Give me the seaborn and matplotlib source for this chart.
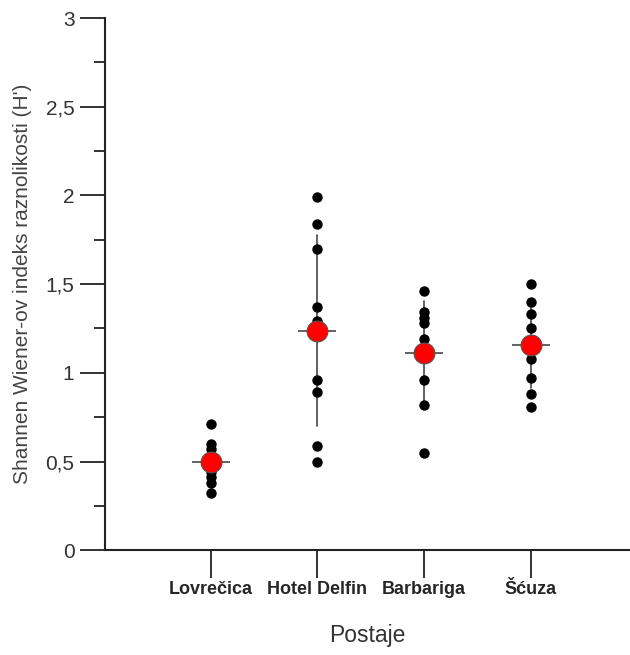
import numpy as np
import pandas as pd
import matplotlib
matplotlib.use("Agg")
import matplotlib.pyplot as plt
from matplotlib.ticker import MultipleLocator, FuncFormatter
import seaborn as sns

sns.set_style("ticks")
plt.rcParams['font.family'] = ['Liberation Sans', 'DejaVu Sans']

# postaje i vrijednosti H' (ocitano sa slike)
postaje = ["Lovrečica", "Hotel Delfin", "Barbariga", "Šćuza"]
lovrecica = [0.71, 0.60, 0.57, 0.53, 0.50, 0.44, 0.41, 0.38, 0.32]
hotel_delfin = [1.99, 1.84, 1.70, 1.37, 1.29, 0.96, 0.89, 0.59, 0.50]
barbariga = [1.46, 1.34, 1.31, 1.28, 1.19, 1.12, 0.96, 0.82, 0.55]
scuza = [1.50, 1.40, 1.33, 1.25, 1.17, 1.08, 0.97, 0.88, 0.81]

df = pd.DataFrame({
    "postaja": np.repeat(postaje, [len(lovrecica), len(hotel_delfin), len(barbariga), len(scuza)]),
    "H": lovrecica + hotel_delfin + barbariga + scuza,
})

fig = plt.figure(figsize=(6.3, 6.55), dpi=100)
ax = fig.add_axes([0.1667, 0.160, 0.8333, 0.8125])

# okomita linija (SD)
sns.pointplot(data=df, x="postaja", y="H", order=postaje, errorbar="sd",
              linestyle="none", marker="", color="#555555", err_kws={"linewidth": 1.3},
              ax=ax, zorder=1)
# vodoravna linija na srednjoj vrijednosti
sns.pointplot(data=df, x="postaja", y="H", order=postaje, errorbar=None,
              linestyle="none", marker="_", markersize=28, markeredgewidth=1.3,
              color="#555555", ax=ax, zorder=2)
# pojedinacne vrijednosti
sns.stripplot(data=df, x="postaja", y="H", order=postaje, jitter=False,
              color="black", size=7.5, ax=ax, zorder=3)
# srednja vrijednost
sns.pointplot(data=df, x="postaja", y="H", order=postaje, errorbar=None,
              linestyle="none", marker="o", markersize=15, color="red",
              markeredgecolor="#555555", markeredgewidth=0.8, ax=ax, zorder=4)

ax.set_xlim(-0.99, 3.93)
ax.set_ylim(0, 3)
ax.yaxis.set_major_locator(MultipleLocator(0.5))
ax.yaxis.set_minor_locator(MultipleLocator(0.25))
ax.yaxis.set_major_formatter(FuncFormatter(lambda v, p: f"{v:g}".replace(".", ",")))

sns.despine(ax=ax)
for s in ["left", "bottom"]:
    ax.spines[s].set_linewidth(1.5)
    ax.spines[s].set_color("#222222")

ax.tick_params(axis="y", which="major", length=18, width=1.3, color="#222222",
               labelsize=15, labelcolor="#333333", pad=4)
ax.tick_params(axis="y", which="minor", length=8, width=1.3, color="#222222")
ax.tick_params(axis="x", which="major", length=20, width=1.3, color="#222222",
               labelsize=13, pad=2)
for lab in ax.get_xticklabels():
    lab.set_fontweight("bold")

ax.set_xlabel("Postaje", fontsize=16.5, color="#333333", labelpad=19)
ax.set_ylabel("Shannen Wiener-ov indeks raznolikosti (H')", fontsize=15,
              color="#444444", labelpad=10)

fig.savefig("out.png", dpi=100)
